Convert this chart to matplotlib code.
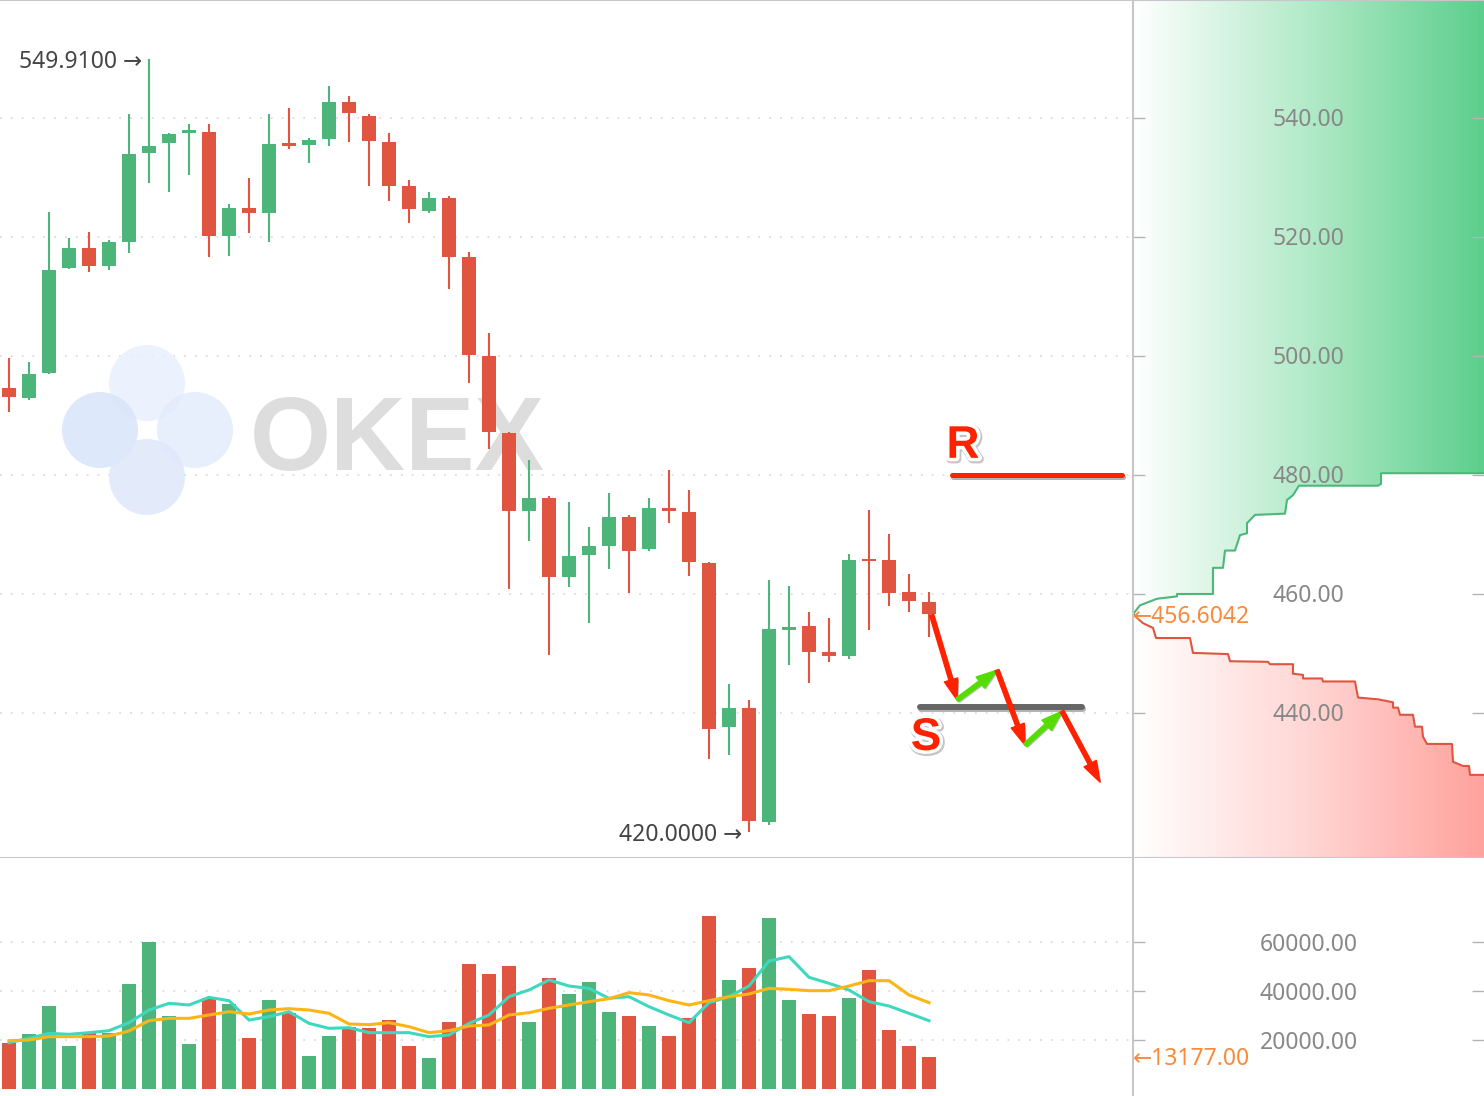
import numpy as np
import matplotlib
matplotlib.use('Agg')
import matplotlib.pyplot as plt
import matplotlib.patheffects as pe
import matplotlib.transforms as mtransforms
from matplotlib.colors import LinearSegmentedColormap
from matplotlib.patches import Circle, FancyArrowPatch

plt.rcParams['font.family'] = ['Noto Sans', 'DejaVu Sans']

# candles
opens = [494.6, 492.9, 497.1, 514.8, 518.1, 515.1, 519.2, 534.1, 535.8, 537.5,
         537.6, 520.2, 524.9, 524.0, 535.6, 535.5, 536.5, 542.7, 540.4, 535.9,
         528.6, 524.3, 526.6, 516.6, 500.0, 487.0, 473.9, 476.2, 462.9, 466.5,
         468.1, 472.9, 467.5, 474.5, 473.8, 465.2, 437.6, 440.8, 421.7, 454.0,
         454.6, 450.2, 449.6, 465.8, 465.7, 460.3, 458.6]
highs = [499.7, 499.0, 524.2, 519.8, 520.8, 519.5, 540.7, 549.91, 537.4, 539.0,
         539.0, 525.5, 529.9, 540.7, 541.7, 536.6, 545.4, 543.7, 540.6, 537.4,
         529.6, 527.5, 526.9, 517.5, 503.8, 487.3, 482.5, 476.5, 475.5, 471.2,
         476.9, 473.2, 476.2, 480.9, 477.5, 465.3, 444.8, 442.2, 462.4, 461.3,
         456.9, 455.9, 466.7, 474.1, 470.1, 463.3, 460.3]
lows = [490.6, 492.6, 497.0, 514.6, 514.1, 514.5, 517.3, 529.1, 527.6, 530.4,
        516.6, 516.8, 520.7, 519.2, 534.8, 532.4, 535.3, 536.0, 528.6, 526.0,
        522.3, 524.0, 511.2, 495.4, 484.3, 460.8, 468.9, 449.8, 461.2, 455.1,
        464.2, 460.2, 467.2, 472.0, 463.1, 432.2, 432.9, 420.0, 421.1, 448.0,
        445.0, 448.6, 449.0, 454.0, 458.0, 457.0, 452.7]
closes = [493.1, 497.0, 514.4, 518.1, 515.1, 519.2, 533.9, 535.3, 537.3, 538.0,
          520.2, 524.9, 524.0, 535.6, 535.3, 536.3, 542.7, 540.8, 536.1, 528.6,
          524.7, 526.6, 516.6, 500.1, 487.3, 473.9, 476.2, 462.9, 466.4, 468.1,
          472.9, 467.2, 474.5, 473.9, 465.3, 437.3, 440.8, 421.9, 454.2, 454.2,
          450.3, 449.6, 465.7, 465.5, 460.1, 458.8, 456.6]
volumes = [18900, 22450, 33880, 17680, 22720, 22720, 42860, 59860, 29800, 18370,
           37010, 34560, 20950, 36330, 31160, 13470, 21630, 25170, 24760, 28160,
           17550, 12790, 27350, 51020, 46940, 50200, 27350, 45440, 38780, 43800,
           31430, 29800, 25710, 21630, 28980, 70740, 44490, 49520, 69800, 36330,
           30610, 29800, 37140, 48570, 24080, 17550, 13177]
vol_ma_fast = [18900, 20680, 22720, 22310, 22990, 23810, 27070, 32240, 34970, 34290,
               37410, 36050, 28160, 29520, 31560, 26800, 24760, 25030, 22990, 22990,
               22990, 21360, 22040, 26800, 30200, 37690, 40410, 44490, 42040, 41090,
               37010, 37690, 33610, 30200, 27070, 35240, 37690, 42040, 52240, 54010,
               45580, 43130, 40410, 35650, 33880, 30880, 27890]
vol_ma_slow = [19730, 20000, 21360, 21360, 21360, 21630, 23670, 27890, 28840, 28840,
               30200, 31560, 30610, 32240, 32790, 32240, 30880, 26530, 26260, 27070,
               25440, 22990, 23810, 25710, 26120, 30200, 31150, 32920, 34290, 35650,
               36870, 39320, 38370, 36050, 34290, 36050, 37690, 38780, 41090, 40680,
               40140, 40140, 42040, 44220, 44220, 38370, 35240]

# order book depth (cumulative size vs price)
ask_depth = [0, 70, 240, 440, 440, 800, 800, 900, 920, 1020, 1070, 1140, 1140,
             1220, 1520, 1540, 1600, 1660, 2450, 2480, 2480, 4000]
ask_price = [456.6, 458.1, 459.2, 459.6, 460.0, 460.0, 464.4, 464.4, 467.3, 467.3,
             469.9, 470.2, 471.9, 473.3, 473.5, 475.8, 476.6, 478.2, 478.2, 478.5,
             480.3, 480.3]
bid_depth = [0, 100, 200, 230, 570, 600, 950, 970, 1350, 1370, 1600, 1600, 1700,
             1700, 1890, 1900, 2220, 2250, 2450, 2600, 2600, 2650, 2670, 2800, 2820,
             2890, 2900, 2940, 3190, 3200, 3300, 3360, 3370, 4000]
bid_price = [456.6, 455.1, 454.3, 452.6, 452.6, 450.1, 449.9, 448.7, 448.6, 448.2,
             448.2, 446.6, 446.4, 445.8, 445.8, 445.3, 445.3, 442.6, 442.3, 441.8,
             440.9, 440.9, 439.7, 439.7, 437.7, 437.7, 436.0, 434.8, 434.8, 431.8,
             431.1, 431.1, 429.6, 429.6]

price_ticks = [440, 460, 480, 500, 520, 540]
vol_ticks = [20000, 40000, 60000]
last_price = 456.6042
last_volume = 13177
high_idx, high_val = 7, 549.91
low_idx, low_val = 37, 420.0

# hand drawn support / resistance sketch
resistance = 480.0
r_span = [47.15, 55.65]
support = 441.0
s_span = [45.55, 53.65]
path_x = [46.13, 47.4, 49.4, 50.8, 52.65, 54.55]
path_y = [456.5, 442.2, 447.2, 434.6, 440.3, 428.4]

GREEN = '#4db57a'
RED = '#e0553f'
ORANGE = '#f98a3c'
LABEL = '#888888'
SEP = '#c6c6cc'

n = len(opens)
idx = np.arange(n)
colors = [GREEN if c >= o else RED for o, c in zip(opens, closes)]

W, H = 1484, 1096
fig = plt.figure(figsize=(W / 100, H / 100), dpi=100)
sx = 1133 / W
sy = (H - 858) / H
ax = fig.add_axes([0, sy, sx, 1 - sy])
axd = fig.add_axes([sx, sy, 1 - sx, 1 - sy])
axv = fig.add_axes([0, 0, sx, sy])
axvr = fig.add_axes([sx, 0, 1 - sx, sy])

y_lo, y_hi = 415.63, 559.83
v_lo, v_hi = -2857, 94286

# ---- price panel
ax.set_xlim(-0.45, 56.2)
ax.set_ylim(y_lo, y_hi)
bottoms = [min(o, c) for o, c in zip(opens, closes)]
heights = [max(abs(c - o), 0.45) for o, c in zip(opens, closes)]
ax.vlines(idx, lows, highs, colors=colors, lw=1.5, zorder=3)
ax.bar(idx, heights, 0.7, bottom=bottoms, color=colors, zorder=4)
ax.set_yticks(price_ticks)
ax.set_xticks([])
ax.set_axisbelow(True)
ax.grid(axis='y', color='#dcdcdc', linestyle=(0, (1, 5)), lw=1.3)
ax.tick_params(left=False, labelleft=False)
for s in ['left', 'right']:
    ax.spines[s].set_visible(False)
for s in ['top', 'bottom']:
    ax.spines[s].set_color(SEP)
    ax.spines[s].set_linewidth(1.5)

# watermark
for (cx, cy), fc in zip([(147, 383), (100, 430), (195, 430), (147, 477)],
                        ['#e9f0fd', '#d9e4fb', '#e3ecfc', '#dfe8fb']):
    ax.add_patch(Circle((cx / 100, (H - cy) / 100), 0.38, transform=fig.dpi_scale_trans,
                        facecolor=fc, edgecolor='none', alpha=0.85, zorder=0.6))
ax.text(250 / 1133, (858 - 470) / 858, 'OKEX', transform=ax.transAxes, ha='left',
        va='baseline', fontsize=75, fontweight='bold', family='Liberation Sans',
        color='#dddddd', zorder=0.7)

ax.annotate('549.9100 →', xy=(high_idx, high_val), xytext=(-5, -2), textcoords='offset points',
            ha='right', va='center', fontsize=16.5, color='#444444')
ax.annotate('420.0000 →', xy=(low_idx, low_val), xytext=(-5, -2), textcoords='offset points',
            ha='right', va='center', fontsize=16.5, color='#444444')

# resistance / support sketch
ax.plot(r_span, [resistance] * 2, color='#ff2200', lw=3.6, solid_capstyle='round', zorder=6,
        path_effects=[pe.SimpleLineShadow(offset=(1, -1.5), alpha=0.3), pe.Normal()])
ax.plot(s_span, [support] * 2, color='#666666', lw=4.3, solid_capstyle='round', zorder=6,
        path_effects=[pe.SimpleLineShadow(offset=(1, -1.5), alpha=0.3), pe.Normal()])
txt_fx = [pe.Stroke(linewidth=6, foreground='#c4c4c4', offset=(0.8, -1)),
          pe.Stroke(linewidth=5, foreground='white'), pe.Normal()]
ax.text(47.7, resistance + 4.9, 'R', ha='center', va='center', fontsize=33, fontweight='bold',
        family='Liberation Sans', color='#ff2200', zorder=8, path_effects=txt_fx)
ax.text(45.85, support - 5.2, 'S', ha='center', va='center', fontsize=33, fontweight='bold',
        family='Liberation Sans', color='#ff2200', zorder=8, path_effects=txt_fx)
for k in range(len(path_x) - 1):
    col = '#ff2200' if k % 2 == 0 else '#55dd00'
    arr = FancyArrowPatch((path_x[k], path_y[k]), (path_x[k + 1], path_y[k + 1]),
                          arrowstyle='simple,head_length=1.5,head_width=1.0,tail_width=0.3',
                          mutation_scale=10, color=col, shrinkA=0, shrinkB=0, zorder=7,
                          path_effects=[pe.SimplePatchShadow(offset=(1, -1), alpha=0.35), pe.Normal()])
    ax.add_patch(arr)

# ---- depth panel
d_max = 3510
grad = np.linspace(0, 1, 256).reshape(1, -1)
ask_poly = axd.fill_betweenx(ask_price + [y_hi + 5], 0, ask_depth + [ask_depth[-1]],
                             facecolor='none', edgecolor='none')
bid_poly = axd.fill_betweenx(bid_price + [y_lo - 5], 0, bid_depth + [bid_depth[-1]],
                             facecolor='none', edgecolor='none')
g_cmap = LinearSegmentedColormap.from_list('g', ['#ffffff', '#b2eac8', '#5ccf8c'])
r_cmap = LinearSegmentedColormap.from_list('r', ['#ffffff', '#ffd6d4', '#ffa29c'])
im_g = axd.imshow(grad, extent=[0, d_max, y_lo, y_hi], aspect='auto', cmap=g_cmap, zorder=1)
im_g.set_clip_path(ask_poly.get_paths()[0], transform=axd.transData)
im_r = axd.imshow(grad, extent=[0, d_max, y_lo, y_hi], aspect='auto', cmap=r_cmap, zorder=1)
im_r.set_clip_path(bid_poly.get_paths()[0], transform=axd.transData)
axd.plot(ask_depth, ask_price, color='#4cb878', lw=1.5, zorder=2)
axd.plot(bid_depth, bid_price, color='#e0553f', lw=1.5, zorder=2)
axd.set_xlim(0, d_max)
axd.set_ylim(y_lo, y_hi)
axd.set_xticks([])
axd.set_yticks(price_ticks)
axd.tick_params(axis='y', left=True, right=True, direction='in', length=8.6, width=1,
                color='#b4b4b4', labelleft=False, labelright=False)
d_trans = mtransforms.offset_copy(axd.get_yaxis_transform(), fig=fig, y=-2.5, units='dots')
for p in price_ticks:
    axd.text(0.5, p, f'{p:.2f}', transform=d_trans, ha='center',
             va='center', fontsize=16.5, color=LABEL, zorder=5)
axd.text(0.0, last_price, '←456.6042', transform=d_trans, ha='left',
         va='center', fontsize=16.5, color=ORANGE, zorder=5)
axd.spines['right'].set_visible(False)
for s in ['left', 'top', 'bottom']:
    axd.spines[s].set_color(SEP)
    axd.spines[s].set_linewidth(1.5)

# ---- volume panel
axv.set_xlim(-0.45, 56.2)
axv.set_ylim(v_lo, v_hi)
axv.bar(idx, volumes, 0.7, color=colors, zorder=3)
axv.plot(idx, vol_ma_fast, color='#3fd8bf', lw=2.2, zorder=4)
axv.plot(idx, vol_ma_slow, color='#fdb515', lw=2.2, zorder=4)
axv.set_yticks(vol_ticks)
axv.set_xticks([])
axv.set_axisbelow(True)
axv.grid(axis='y', color='#dcdcdc', linestyle=(0, (1, 5)), lw=1.3)
axv.tick_params(left=False, labelleft=False)
for s in axv.spines.values():
    s.set_visible(False)

axvr.set_ylim(v_lo, v_hi)
axvr.set_xlim(0, 1)
axvr.set_xticks([])
axvr.set_yticks(vol_ticks)
axvr.tick_params(axis='y', left=True, right=True, direction='in', length=8.6, width=1,
                 color='#b4b4b4', labelleft=False, labelright=False)
v_trans = mtransforms.offset_copy(axvr.get_yaxis_transform(), fig=fig, y=-2.5, units='dots')
for v in vol_ticks:
    axvr.text(0.5, v, f'{v:.2f}', transform=v_trans, ha='center',
              va='center', fontsize=16.5, color=LABEL)
axvr.text(0.0, last_volume, '←13177.00', transform=v_trans, ha='left',
          va='center', fontsize=16.5, color=ORANGE)
for s in ['right', 'top', 'bottom']:
    axvr.spines[s].set_visible(False)
axvr.spines['left'].set_color(SEP)
axvr.spines['left'].set_linewidth(1.5)

fig.savefig('out.png', dpi=100)
